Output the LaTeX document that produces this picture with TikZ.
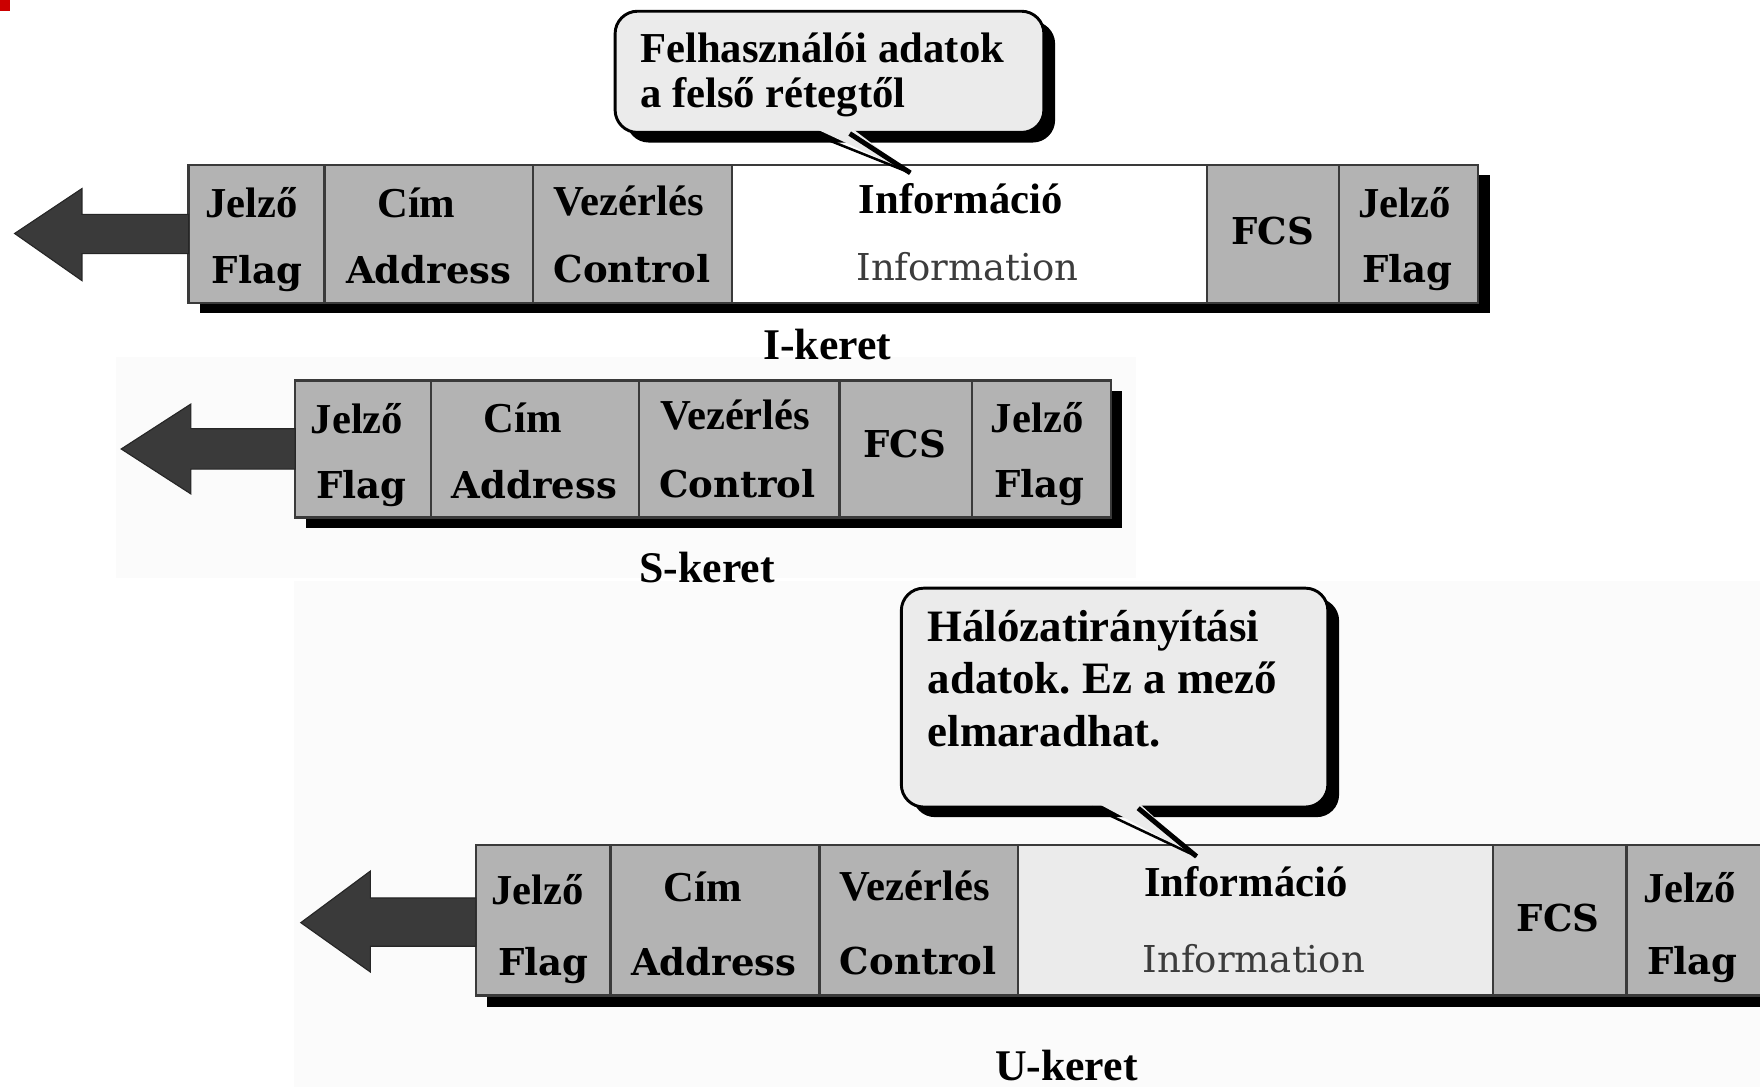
\documentclass[tikz,border=0pt]{standalone}
\usepackage{fontspec}
\setmainfont{Liberation Serif}
\newfontfamily\engserif{DejaVu Serif}
\usetikzlibrary{fit}
\frenchspacing

\definecolor{fieldgray}{HTML}{B3B3B3}
\definecolor{boxline}{HTML}{3A3A3A}
\definecolor{infolight}{HTML}{EBEBEB}
\definecolor{bubblefill}{HTML}{EBEBEB}
\definecolor{arrowfill}{HTML}{3A3A3A}
\definecolor{infotext}{HTML}{3C3C3C}
\definecolor{haze}{HTML}{FBFBFB}
\definecolor{redmark}{HTML}{CC0000}

\tikzset{
  field/.style={rectangle, draw=boxline, line width=1pt, fill=fieldgray, inner sep=0pt, outer sep=0pt},
  infofield/.style={field, fill=#1},
  boxshadow/.style={rectangle, fill=black, inner sep=0pt, outer sep=0pt},
  hu/.style={font=\fontsize{19pt}{21pt}\selectfont\bfseries, anchor=base, inner sep=0pt},
  en/.style={font=\engserif\fontsize{16.5pt}{18pt}\selectfont\bfseries, anchor=base, inner sep=0pt},
  infoen/.style={font=\engserif\fontsize{16.5pt}{18pt}\selectfont, text=infotext, anchor=base, inner sep=0pt},
  caption/.style={font=\fontsize{19.5pt}{21pt}\selectfont\bfseries, inner sep=0pt},
  bigarrow/.style={fill=arrowfill, draw=black!85, line width=0.5pt, line join=miter},
  bubble/.style={rectangle, rounded corners=10pt, draw=black, line width=1.3pt, fill=bubblefill, inner sep=0pt},
  bubbleshadow/.style={rectangle, rounded corners=10pt, fill=black, inner sep=0pt},
  bubbletext/.style={align=left, anchor=north west, inner sep=0pt},
}

\begin{document}
\begin{tikzpicture}[x=0.5pt, y=-0.5pt]
\useasboundingbox (0,0) rectangle (1568,968);
\fill[white] (0,0) rectangle (1568,968);
% faint backdrop behind the lower two frames
\fill[haze] (103,318) rectangle (1012,515);
\fill[haze] (262,518) rectangle (1568,968);
\fill[redmark] (0,0) rectangle (9,10);

% ---------------- I-frame ----------------
\node[boxshadow, fit={(178,156) (1327,279)}] (Ishadow) {};
\node[field, fit={(168,147) (289,270)}] (I1) {};
\node[field, fit={(289,147) (475,270)}] (I2) {};
\node[field, fit={(475,147) (652,270)}] (I3) {};
\node[infofield=white, fit={(652,147) (1075,270)}] (I4) {};
\node[field, fit={(1075,147) (1193,270)}] (I5) {};
\node[field, fit={(1193,147) (1317,270)}] (I6) {};

\node[hu] (I1h) at (224,194) {Jelző};
\node[en] (I1e) at (229,253) {Flag};
\node[hu] (I2h) at (371,194) {Cím};
\node[en] (I2e) at (382,253) {Address};
\node[hu] (I3h) at (560,192) {Vezérlés};
\node[en] (I3e) at (563,252) {Control};
\node[hu] (I4h) at (856,190) {Információ};
\node[infoen] (I4e) at (862,250) {Information};
\node[en] (I5e) at (1134,218) {FCS};
\node[hu] (I6h) at (1251,194) {Jelző};
\node[en] (I6e) at (1254,252) {Flag};
\node[caption] (Icap) at (737,307) {I-keret};

\coordinate (Itip) at (13,208);
\draw[bigarrow] (Itip) -- (73,168) -- (73,191) -- (I1.west |- 0,191) -- (I1.west |- 0,226) -- (73,226) -- (73,250) -- cycle;

% callout above the information field
\node[bubbleshadow, fit={(558,19) (940,127)}] (UserShadow) {};
\node[bubble, fit={(548,10) (930,118)}] (UserBubble) {};
\coordinate (UserTip) at (811,154);
\fill[bubblefill] (721,112) -- (756,112) -- (UserTip) -- cycle;
\draw[black, line width=1.1pt] (721,118) -- (UserTip);
\draw[black, line width=2.2pt] (757,119) -- (UserTip);
\node[bubbletext, font=\fontsize{19pt}{20pt}\selectfont\bfseries] (UserText) at (570,29)
  {Felhasználói adatok\\a felső rétegtől};

% ---------------- S-frame ----------------
\node[boxshadow, fit={(273,348) (1000,470)}] (Sshadow) {};
\node[field, fit={(263,339) (384,461)}] (S1) {};
\node[field, fit={(384,339) (569,461)}] (S2) {};
\node[field, fit={(569,339) (748,461)}] (S3) {};
\node[field, fit={(748,339) (866,461)}] (S4) {};
\node[field, fit={(866,339) (990,461)}] (S5) {};

\node[hu] (S1h) at (318,386) {Jelző};
\node[en] (S1e) at (322,444) {Flag};
\node[hu] (S2h) at (466,385) {Cím};
\node[en] (S2e) at (476,444) {Address};
\node[hu] (S3h) at (655,383) {Vezérlés};
\node[en] (S3e) at (657,443) {Control};
\node[en] (S4e) at (806,408) {FCS};
\node[hu] (S5h) at (924,385) {Jelző};
\node[en] (S5e) at (926,443) {Flag};
\node[caption] (Scap) at (630,506) {S-keret};

\coordinate (Stip) at (108,400);
\draw[bigarrow] (Stip) -- (170,360) -- (170,382) -- (S1.west |- 0,382) -- (S1.west |- 0,418) -- (170,418) -- (170,440) -- cycle;

% ---------------- U-frame ----------------
\node[boxshadow, fit={(434,762) (1590,897)}] (Ushadow) {};
\node[field, fit={(424,753) (544,887)}] (U1) {};
\node[field, fit={(544,753) (730,887)}] (U2) {};
\node[field, fit={(730,753) (907,887)}] (U3) {};
\node[infofield=infolight, fit={(907,753) (1330,887)}] (U4) {};
\node[field, fit={(1330,753) (1449,887)}] (U5) {};
\node[field, fit={(1449,753) (1580,887)}] (U6) {};

\node[hu] (U1h) at (479,806) {Jelző};
\node[en] (U1e) at (484,869) {Flag};
\node[hu] (U2h) at (626,803) {Cím};
\node[en] (U2e) at (636,869) {Address};
\node[hu] (U3h) at (815,802) {Vezérlés};
\node[en] (U3e) at (818,868) {Control};
\node[hu] (U4h) at (1110,799) {Információ};
\node[infoen] (U4e) at (1117,866) {Information};
\node[en] (U5e) at (1388,830) {FCS};
\node[hu] (U6h) at (1505,804) {Jelző};
\node[en] (U6e) at (1508,868) {Flag};
\node[caption] (Ucap) at (950,949) {U-keret};

\coordinate (Utip) at (268,822);
\draw[bigarrow] (Utip) -- (330,776) -- (330,800) -- (U1.west |- 0,800) -- (U1.west |- 0,843) -- (330,843) -- (330,866) -- cycle;

% callout above the U-frame information field
\node[bubbleshadow, fit={(813,533) (1193,728)}] (NetShadow) {};
\node[bubble, fit={(803,524) (1183,719)}] (NetBubble) {};
\coordinate (NetTip) at (1066,763);
\fill[bubblefill] (973,713) -- (1012,713) -- (NetTip) -- cycle;
\draw[black, line width=1.1pt] (973,719) -- (NetTip);
\draw[black, line width=2.2pt] (1014,720) -- (NetTip);
\node[bubbletext, font=\fontsize{20pt}{23.5pt}\selectfont\bfseries] (NetText) at (826,543)
  {Hálózatirányítási\\adatok. Ez a mező\\elmaradhat.};
\end{tikzpicture}
\end{document}
